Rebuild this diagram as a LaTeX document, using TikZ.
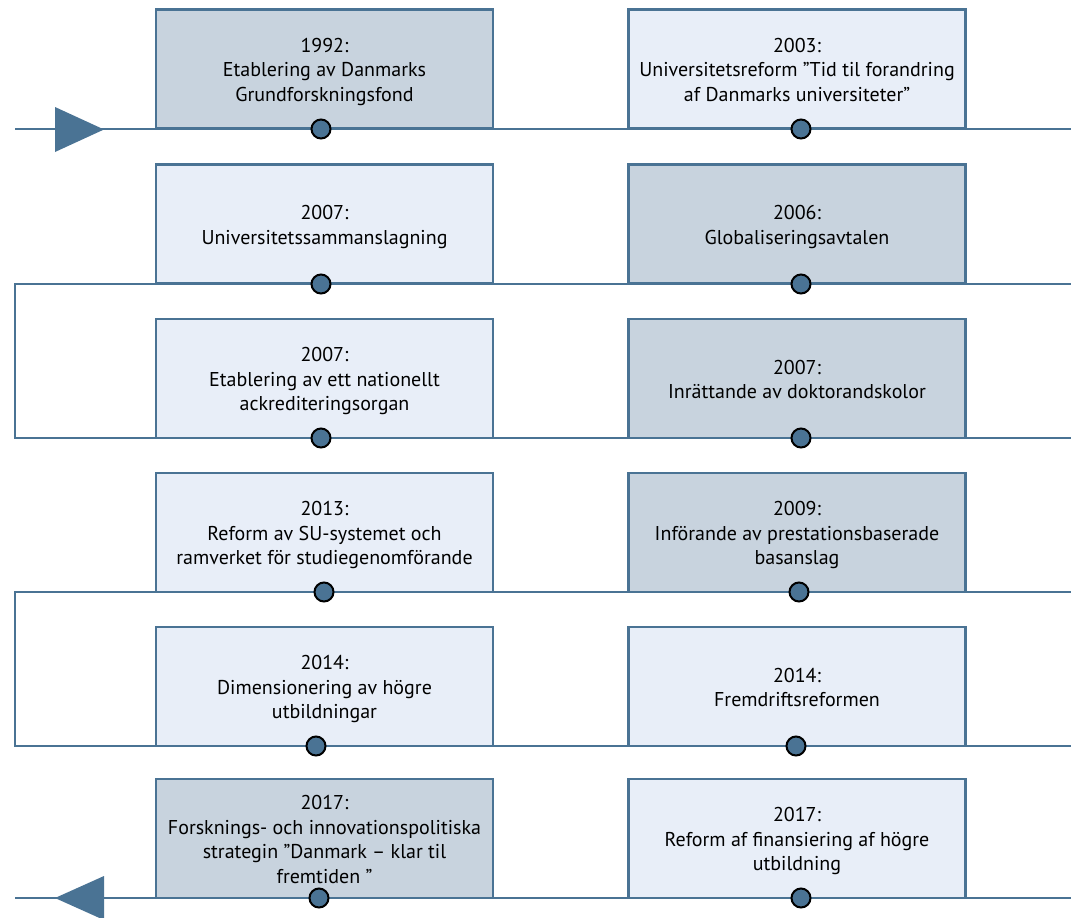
\documentclass[tikz,border=0pt]{standalone}
\usepackage{fontspec}
\setmainfont{PT Sans}
\usetikzlibrary{calc}
\definecolor{edgeblue}{HTML}{4A7394}
\definecolor{darkfill}{HTML}{C8D3DE}
\definecolor{lightfill}{HTML}{E8EEF8}
\newcommand{\evtext}[1]{\raisebox{-3pt}[\height][\depth]{\begin{tabular}{@{}c@{}}#1\end{tabular}}}
\begin{document}
\begin{tikzpicture}[x=1pt,y=-1pt,
  evbox/.style={draw=edgeblue,line width=2.5pt,minimum width=337pt,minimum height=119pt,
    inner sep=2pt,font=\fontsize{20}{24.5}\selectfont,text=black},
  darkbox/.style={evbox,fill=darkfill},
  lightbox/.style={evbox,fill=lightfill},
  tl/.style={draw=edgeblue,line width=2.5pt},
  evdot/.style={circle,draw=black,line width=2pt,fill=edgeblue,minimum size=19pt,inner sep=0pt},
  tipfill/.style={fill=edgeblue}]
\useasboundingbox (0,0) rectangle (1071,918);
\fill[white] (0,0) rectangle (1071,918);
% boxes
\node[darkbox]  (b1)  at (324.5,69)  {\evtext{1992:\\Etablering av Danmarks\\Grundforskningsfond}};
\node[lightbox] (b2)  at (797,69)    {\evtext{2003:\\Universitetsreform ”Tid til forandring\\af Danmarks universiteter”}};
\node[lightbox] (b3)  at (324.5,224) {\evtext{2007:\\Universitetssammanslagning}};
\node[darkbox]  (b4)  at (797,224)   {\evtext{2006:\\Globaliseringsavtalen}};
\node[lightbox] (b5)  at (324.5,378.5) {\evtext{2007:\\Etablering av ett nationellt\\ackrediteringsorgan}};
\node[darkbox]  (b6)  at (797,378.5) {\evtext{2007:\\Inrättande av doktorandskolor}};
\node[lightbox] (b7)  at (324.5,532.5) {\evtext{2013:\\Reform av SU-systemet och\\ramverket för studiegenomförande}};
\node[darkbox]  (b8)  at (797,532.5) {\evtext{2009:\\Införande av prestationsbaserade\\basanslag}};
\node[lightbox] (b9)  at (324.5,686.5) {\evtext{2014:\\Dimensionering av högre\\utbildningar}};
\node[lightbox] (b10) at (797,686.5) {\evtext{2014:\\Fremdriftsreformen}};
\node[darkbox]  (b11) at (324.5,838.5) {\evtext{2017:\\Forsknings- och innovationspolitiska\\strategin ”Danmark – klar til\\fremtiden ”}};
\node[lightbox] (b12) at (797,838.5) {\evtext{2017:\\Reform af finansiering af högre\\utbildning}};
% timeline coordinates
\coordinate (s1) at (15,129);   \coordinate (e1) at (1071,129);
\coordinate (r2) at (1071,284); \coordinate (l2) at (15,284);
\coordinate (l3) at (15,438);   \coordinate (r3) at (1071,438);
\coordinate (r4) at (1071,592); \coordinate (l4) at (15,592);
\coordinate (l5) at (15,746);   \coordinate (r5) at (1071,746);
\coordinate (s6) at (15,898);   \coordinate (e6) at (1071,898);
\draw[tl] (s1) -- (e1);
\draw[tl] (r2) -- (l2) -- (l3) -- (r3);
\draw[tl] (r4) -- (l4) -- (l5) -- (r5);
\draw[tl] (s6) -- (e6);
% arrowheads
\fill[tipfill] (55,107) -- (104,129.5) -- (55,152) -- cycle;
\fill[tipfill] (104,876) -- (55,898) -- (104,920) -- cycle;
% dots
\node[evdot] (d1)  at (321,129) {};
\node[evdot] (d2)  at (801,129) {};
\node[evdot] (d3)  at (321,284) {};
\node[evdot] (d4)  at (801,284) {};
\node[evdot] (d5)  at (321,438) {};
\node[evdot] (d6)  at (801,438) {};
\node[evdot] (d7)  at (324,592) {};
\node[evdot] (d8)  at (799,592) {};
\node[evdot] (d9)  at (316,746) {};
\node[evdot] (d10) at (796,746) {};
\node[evdot] (d11) at (319,898) {};
\node[evdot] (d12) at (801,898) {};
\end{tikzpicture}
\end{document}
